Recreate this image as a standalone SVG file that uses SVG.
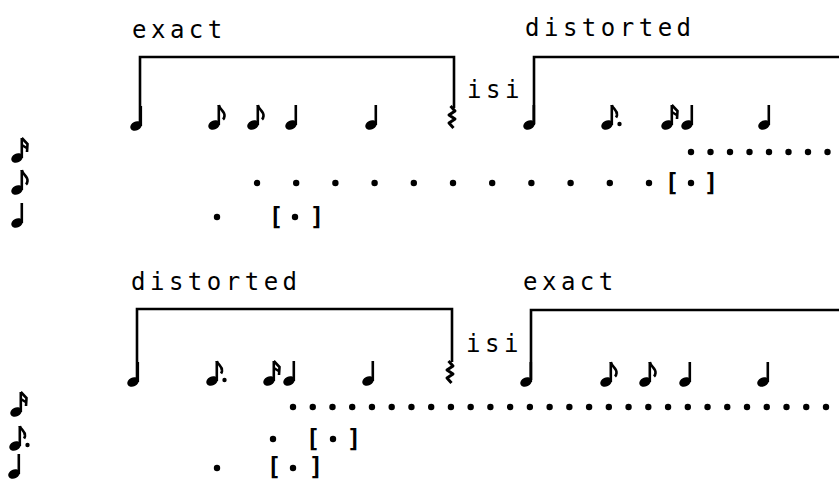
<svg xmlns="http://www.w3.org/2000/svg" xmlns:xlink="http://www.w3.org/1999/xlink" width="839" height="480" viewBox="0 0 839 480">
<style>
.lbl{font-family:"DejaVu Sans Mono","Liberation Mono",monospace;font-size:24px;letter-spacing:4.5px;fill:#000}
.br{font-family:"DejaVu Sans Mono","Liberation Mono",monospace;font-size:24px;font-weight:bold;fill:#000;text-anchor:middle}
.brk{fill:none;stroke:#000;stroke-width:2.6}
.stem{stroke:#000;stroke-width:2.6;fill:none}
</style>
<defs>
<g id="head"><ellipse cx="0" cy="0" rx="6" ry="4.5" transform="rotate(-25)" fill="#000"/></g>
<g id="q"><use xlink:href="#head"/><line class="stem" x1="4.8" y1="0" x2="4.8" y2="-20"/></g>
<g id="e"><use xlink:href="#q"/><path class="stem" d="M4.8,-20 C5.8,-15 11,-14 10.5,-9 C10.3,-7 9.5,-6 9,-5.5"/></g>
<g id="s"><use xlink:href="#q"/><path class="stem" d="M4.8,-20 L10.5,-14 L10,-6 M4.8,-13 L10.5,-9.5"/></g>
<g id="de"><use xlink:href="#q"/><path class="stem" d="M4.8,-20 C5.8,-16 10.5,-15 10,-10 C9.8,-8.5 9.3,-8 9,-7.5"/><circle cx="12.5" cy="-1" r="2.2" fill="#000"/></g>
<path id="rest" d="M1.5,0 l4.5,5 l-6,4 l6,4 l-6,4 l4.5,5" fill="none" stroke="#000" stroke-width="3" stroke-linejoin="round"/>
<circle id="d" r="3.2" fill="#000"/>
</defs>

<g id="top-section">
  <g id="top-labels">
    <text class="lbl" x="132" y="38">exact</text>
    <text class="lbl" x="525" y="36">distorted</text>
    <text class="lbl" x="467" y="98">isi</text>
  </g>
  <g id="top-brackets">
    <path class="brk" d="M140,124 V57 H454 V108"/>
    <path class="brk" d="M534,124 V57 H839"/>
    <use xlink:href="#rest" x="449" y="106"/>
  </g>
  <g id="top-notes">
    <use xlink:href="#q" x="136" y="126"/>
    <use xlink:href="#e" x="214" y="125"/>
    <use xlink:href="#e" x="253" y="125"/>
    <use xlink:href="#q" x="291" y="125"/>
    <use xlink:href="#q" x="371" y="125"/>
    <use xlink:href="#q" x="529" y="125"/>
    <use xlink:href="#de" x="607" y="125"/>
    <use xlink:href="#s" x="667" y="125"/>
    <use xlink:href="#q" x="687" y="125"/>
    <use xlink:href="#q" x="764" y="125"/>
  </g>
  <g id="top-rows">
    <use xlink:href="#s" x="17" y="158"/>
    <use xlink:href="#e" x="17" y="190"/>
    <use xlink:href="#q" x="17" y="223"/>
    <g id="top-row-16th">
      <use xlink:href="#d" x="691" y="152"/><use xlink:href="#d" x="710.5" y="152"/><use xlink:href="#d" x="730" y="152"/><use xlink:href="#d" x="749.5" y="152"/><use xlink:href="#d" x="769" y="152"/><use xlink:href="#d" x="788.5" y="152"/><use xlink:href="#d" x="808" y="152"/><use xlink:href="#d" x="827.5" y="152"/>
    </g>
    <g id="top-row-8th">
      <use xlink:href="#d" x="257" y="183"/><use xlink:href="#d" x="296.2" y="183"/><use xlink:href="#d" x="335.4" y="183"/><use xlink:href="#d" x="374.6" y="183"/><use xlink:href="#d" x="413.8" y="183"/><use xlink:href="#d" x="453" y="183"/><use xlink:href="#d" x="492.2" y="183"/><use xlink:href="#d" x="531.4" y="183"/><use xlink:href="#d" x="570.6" y="183"/><use xlink:href="#d" x="609.8" y="183"/><use xlink:href="#d" x="649" y="183"/>
      <text class="br" x="672" y="190.5">[</text><use xlink:href="#d" x="691" y="183"/><text class="br" x="711" y="190.5">]</text>
    </g>
    <g id="top-row-4th">
      <use xlink:href="#d" x="217" y="217"/>
      <text class="br" x="276" y="224.5">[</text><use xlink:href="#d" x="295" y="217"/><text class="br" x="317" y="224.5">]</text>
    </g>
  </g>
</g>

<g id="bottom-section">
  <g id="bottom-labels">
    <text class="lbl" x="131" y="290">distorted</text>
    <text class="lbl" x="523" y="290">exact</text>
    <text class="lbl" x="466" y="352">isi</text>
  </g>
  <g id="bottom-brackets">
    <path class="brk" d="M137,380 V309 H452 V362"/>
    <path class="brk" d="M531,380 V310 H839"/>
    <use xlink:href="#rest" x="447" y="361"/>
  </g>
  <g id="bottom-notes">
    <use xlink:href="#q" x="133" y="382"/>
    <use xlink:href="#de" x="212" y="381"/>
    <use xlink:href="#s" x="269" y="381"/>
    <use xlink:href="#q" x="289" y="381"/>
    <use xlink:href="#q" x="368" y="381"/>
    <use xlink:href="#q" x="526" y="382"/>
    <use xlink:href="#e" x="606" y="382"/>
    <use xlink:href="#e" x="645" y="382"/>
    <use xlink:href="#q" x="685" y="382"/>
    <use xlink:href="#q" x="763" y="382"/>
  </g>
  <g id="bottom-rows">
    <use xlink:href="#s" x="16" y="412"/>
    <use xlink:href="#de" x="15" y="446"/>
    <use xlink:href="#q" x="14" y="474"/>
    <g id="bottom-row-16th">
      <use xlink:href="#d" x="293" y="407"/><use xlink:href="#d" x="312.74" y="407"/><use xlink:href="#d" x="332.48" y="407"/><use xlink:href="#d" x="352.22" y="407"/><use xlink:href="#d" x="371.96" y="407"/><use xlink:href="#d" x="391.7" y="407"/><use xlink:href="#d" x="411.44" y="407"/><use xlink:href="#d" x="431.18" y="407"/><use xlink:href="#d" x="450.92" y="407"/><use xlink:href="#d" x="470.66" y="407"/><use xlink:href="#d" x="490.4" y="407"/><use xlink:href="#d" x="510.14" y="407"/><use xlink:href="#d" x="529.88" y="407"/><use xlink:href="#d" x="549.62" y="407"/><use xlink:href="#d" x="569.36" y="407"/><use xlink:href="#d" x="589.1" y="407"/><use xlink:href="#d" x="608.84" y="407"/><use xlink:href="#d" x="628.58" y="407"/><use xlink:href="#d" x="648.32" y="407"/><use xlink:href="#d" x="668.06" y="407"/><use xlink:href="#d" x="687.8" y="407"/><use xlink:href="#d" x="707.54" y="407"/><use xlink:href="#d" x="727.28" y="407"/><use xlink:href="#d" x="747.02" y="407"/><use xlink:href="#d" x="766.76" y="407"/><use xlink:href="#d" x="786.5" y="407"/><use xlink:href="#d" x="806.24" y="407"/><use xlink:href="#d" x="826" y="407"/>
    </g>
    <g id="bottom-row-dotted8th">
      <use xlink:href="#d" x="273" y="439"/>
      <text class="br" x="313" y="446.5">[</text><use xlink:href="#d" x="333" y="439"/><text class="br" x="354" y="446.5">]</text>
    </g>
    <g id="bottom-row-4th">
      <use xlink:href="#d" x="217" y="468"/>
      <text class="br" x="274" y="475">[</text><use xlink:href="#d" x="293" y="468"/><text class="br" x="316" y="475">]</text>
    </g>
  </g>
</g>
</svg>
